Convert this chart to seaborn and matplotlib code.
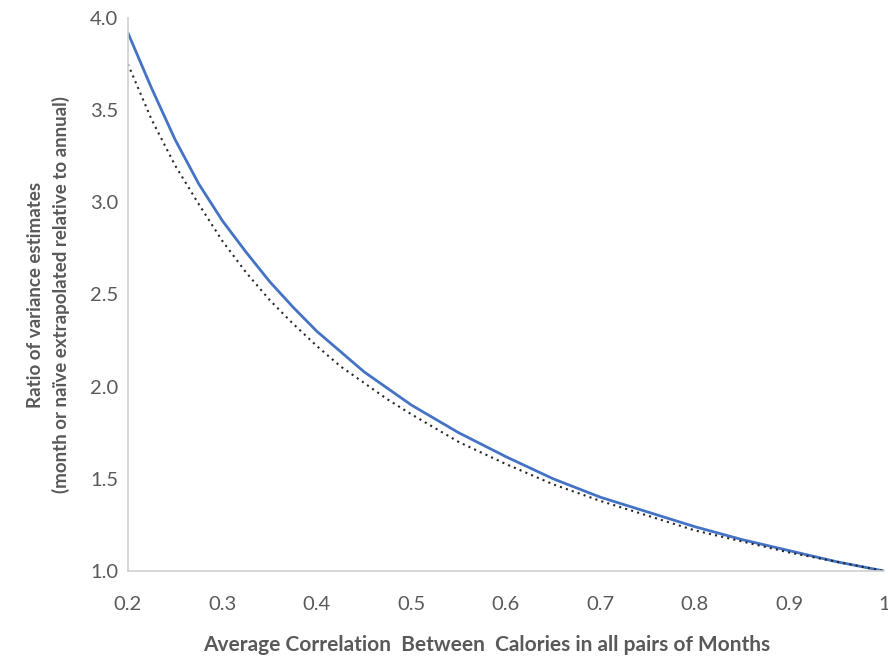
import numpy as np
import pandas as pd
import seaborn as sns
import matplotlib
matplotlib.use("Agg")
import matplotlib.pyplot as plt

# average correlation between months
corr = [0.2, 0.225, 0.25, 0.275, 0.3, 0.325, 0.35, 0.375, 0.4, 0.425, 0.45, 0.475, 0.5,
        0.55, 0.6, 0.65, 0.7, 0.75, 0.8, 0.85, 0.9, 0.95, 1.0]
# month ratio (solid blue)
month_ratio = [3.92, 3.62, 3.34, 3.10, 2.90, 2.73, 2.57, 2.43, 2.30, 2.19, 2.08, 1.99, 1.90,
               1.75, 1.62, 1.50, 1.40, 1.32, 1.24, 1.17, 1.11, 1.05, 1.00]
# naive extrapolated ratio (dotted)
naive_ratio = [3.75, 3.45, 3.20, 2.99, 2.79, 2.62, 2.47, 2.34, 2.22, 2.11, 2.02, 1.93, 1.85,
               1.70, 1.58, 1.47, 1.38, 1.30, 1.22, 1.16, 1.10, 1.05, 1.00]

xticks = [0.2, 0.3, 0.4, 0.5, 0.6, 0.7, 0.8, 0.9, 1.0]
xtick_labels = ["0.2", "0.3", "0.4", "0.5", "0.6", "0.7", "0.8", "0.9", "1"]
yticks = [1.0, 1.5, 2.0, 2.5, 3.0, 3.5, 4.0]

df = pd.DataFrame({"corr": corr, "month": month_ratio, "naive": naive_ratio})

sns.set_style("white")
plt.rcParams['font.family'] = ['Lato', 'DejaVu Sans']

grey = "#595959"
fig = plt.figure(figsize=(8.88, 6.56), dpi=100)
ax = fig.add_axes([0.144, 0.1296, 0.8515, 0.843])

sns.lineplot(data=df, x="corr", y="month", ax=ax, color="#4472C4", linewidth=2.0)
sns.lineplot(data=df, x="corr", y="naive", ax=ax, color="#262626", linewidth=1.5,
             linestyle=(0, (1, 2)))

ax.set_xlim(0.2, 1.0)
ax.set_ylim(1.0, 4.0)
ax.set_xticks(xticks)
ax.set_xticklabels(xtick_labels)
ax.set_yticks(yticks)
ax.set_yticklabels([f"{v:.1f}" for v in yticks])
ax.tick_params(axis="both", length=0, labelsize=14.5, colors=grey)
ax.tick_params(axis="x", pad=18)
ax.tick_params(axis="y", pad=7)

for side in ["top", "right"]:
    ax.spines[side].set_visible(False)
for side in ["left", "bottom"]:
    ax.spines[side].set_color("#d0d0d0")
    ax.spines[side].set_linewidth(1.2)

ax.set_xlabel("Average Correlation  Between  Calories in all pairs of Months",
              fontsize=15, fontweight="bold", color=grey)
ax.xaxis.set_label_coords(0.474, -0.115)
ax.set_ylabel("Ratio of variance estimates\n(month or na\u00efve extrapolated relative to annual)",
              fontsize=13.5, fontweight="bold", color=grey, labelpad=14, linespacing=1.55)

fig.savefig("out.png", dpi=100)
